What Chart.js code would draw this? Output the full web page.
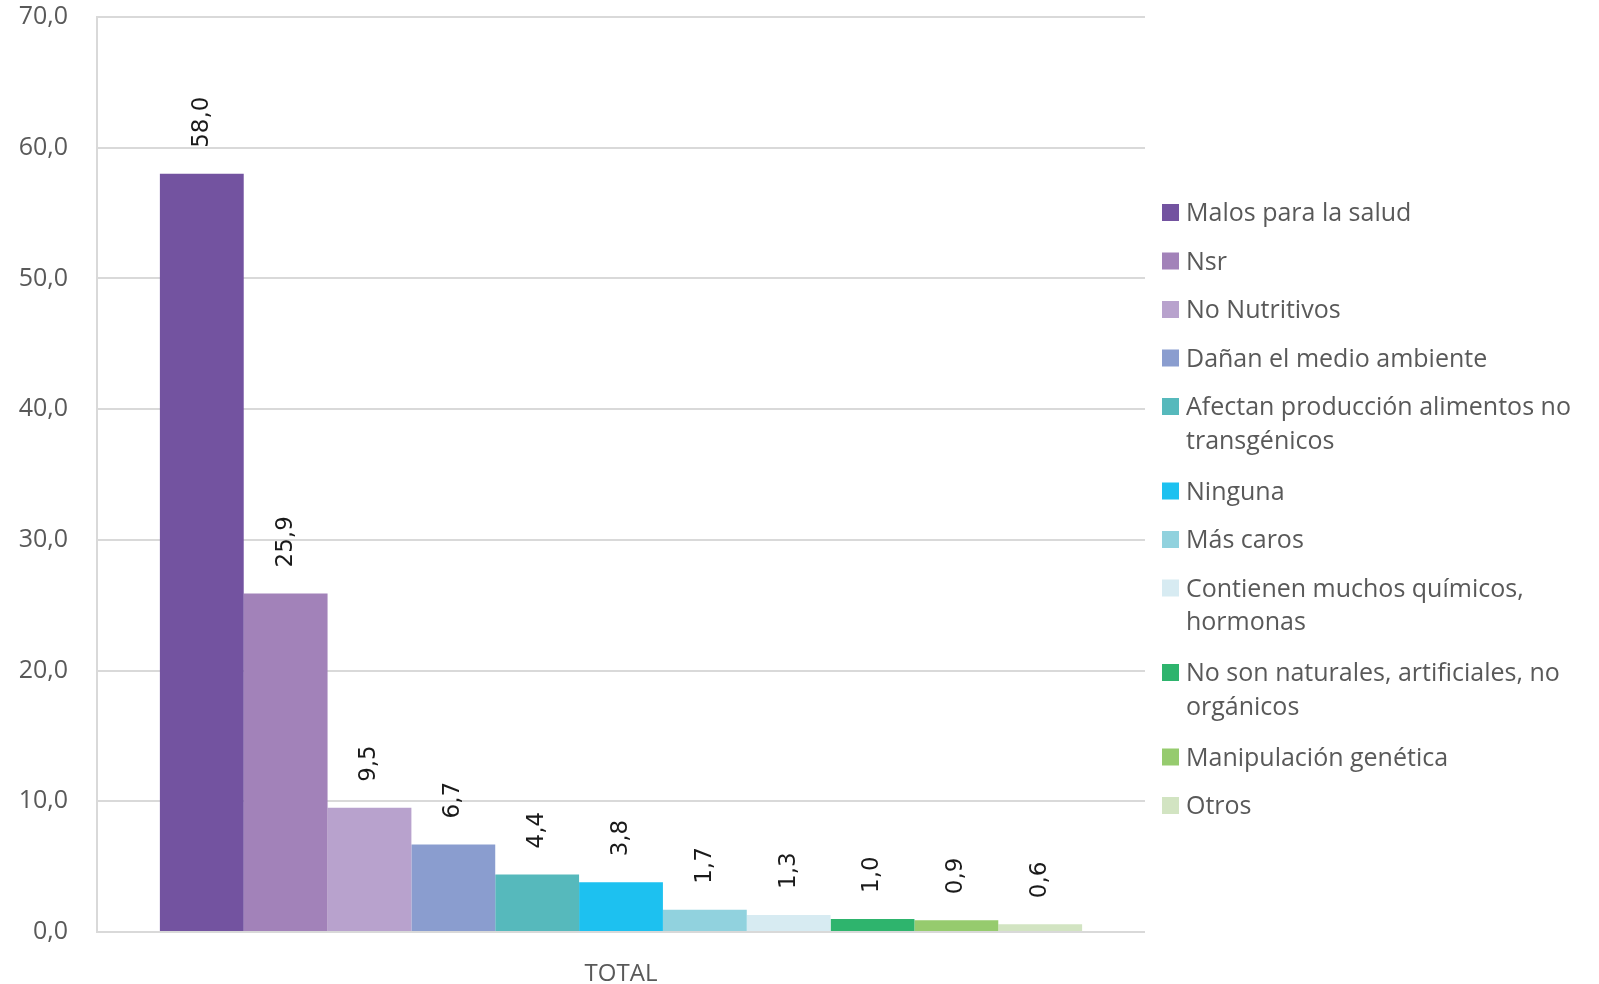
<!DOCTYPE html>
<html>
<head>
<meta charset="utf-8">
<script src="https://cdn.jsdelivr.net/npm/chart.js@4/dist/chart.umd.min.js"></script>
<style>
  html, body { margin: 0; padding: 0; background: #fff; }
  #wrap { width: 1599px; height: 984px; position: relative; }
</style>
</head>
<body>
<div id="wrap"><canvas id="chart"></canvas></div>
<script>
const categories = ["TOTAL"];

const seriesNames = [
  "Malos para la salud",
  "Nsr",
  "No Nutritivos",
  "Dañan el medio ambiente",
  "Afectan producción alimentos no\ntransgénicos",
  "Ninguna",
  "Más caros",
  "Contienen muchos químicos,\nhormonas",
  "No son naturales, artificiales, no\norgánicos",
  "Manipulación genética",
  "Otros"
];

const seriesValues = [58.0, 25.9, 9.5, 6.7, 4.4, 3.8, 1.7, 1.3, 1.0, 0.9, 0.6];

const seriesColors = [
  "#7353a0", "#a282b9", "#b8a2cd", "#8a9dcf", "#56b9bc", "#1dc1f0",
  "#91d2de", "#d7ebf2", "#2eb46d", "#96cb6e", "#d2e4c2"
];

const yMin = 0, yMax = 70, yStep = 10;

const fmt = v => v.toFixed(1).replace(".", ",");
const textColor = "#595959";
const gridColor = "#d9d9d9";

// etiquetas verticales sobre cada barra
const valueLabels = {
  id: "valueLabels",
  afterDatasetsDraw(chart) {
    const ctx = chart.ctx;
    ctx.save();
    ctx.font = "23px 'DejaVu Sans'";
    ctx.fillStyle = "#1a1a1a";
    ctx.textAlign = "left";
    ctx.textBaseline = "middle";
    chart.data.datasets.forEach((ds, i) => {
      const bar = chart.getDatasetMeta(i).data[0];
      ctx.save();
      ctx.translate(bar.x, bar.y - 26);
      ctx.rotate(-Math.PI / 2);
      ctx.fillText(fmt(ds.data[0]), 0, 0);
      ctx.restore();
    });
    ctx.restore();
  }
};

// leyenda a la derecha
const sideLegend = {
  id: "sideLegend",
  afterDraw(chart) {
    const ctx = chart.ctx;
    ctx.save();
    ctx.font = "25px 'Open Sans'";
    ctx.textBaseline = "middle";
    ctx.textAlign = "left";
    let y = 214;
    seriesNames.forEach((name, i) => {
      const lines = name.split("\n");
      ctx.fillStyle = seriesColors[i];
      ctx.fillRect(1162, y - 10, 17, 17);
      ctx.fillStyle = textColor;
      lines.forEach((ln, k) => ctx.fillText(ln, 1186, y + k * 33.5));
      y += 48.5 + (lines.length - 1) * 36;
    });
    ctx.restore();
  }
};

new Chart(document.getElementById("chart"), {
  type: "bar",
  data: {
    labels: categories,
    datasets: seriesNames.map((name, i) => ({
      label: name.replace("\n", " "),
      data: [seriesValues[i]],
      backgroundColor: seriesColors[i],
      barPercentage: 1,
      categoryPercentage: 0.88
    }))
  },
  options: {
    responsive: true,
    maintainAspectRatio: false,
    animation: false,
    layout: { padding: { left: 0, right: 454, top: 17, bottom: 0 } },
    plugins: {
      legend: { display: false },
      tooltip: { enabled: false }
    },
    scales: {
      x: {
        grid: { display: false, drawTicks: false },
        border: { display: false },
        ticks: { color: textColor, font: { family: "'Open Sans'", size: 24 }, padding: 28 },
        afterFit: s => { s.height = 52; s.paddingLeft = 0; s.paddingRight = 0; }
      },
      y: {
        min: yMin,
        max: yMax,
        ticks: {
          stepSize: yStep,
          color: textColor,
          font: { family: "'Open Sans'", size: 25 },
          padding: 29,
          callback: v => fmt(v)
        },
        grid: { color: gridColor, lineWidth: 2, drawTicks: false },
        border: { display: true, color: gridColor, width: 2 },
        afterFit: s => { s.width = 97; s.paddingTop = 0; s.paddingBottom = 0; }
      }
    }
  },
  plugins: [valueLabels, sideLegend]
});
</script>
</body>
</html>
